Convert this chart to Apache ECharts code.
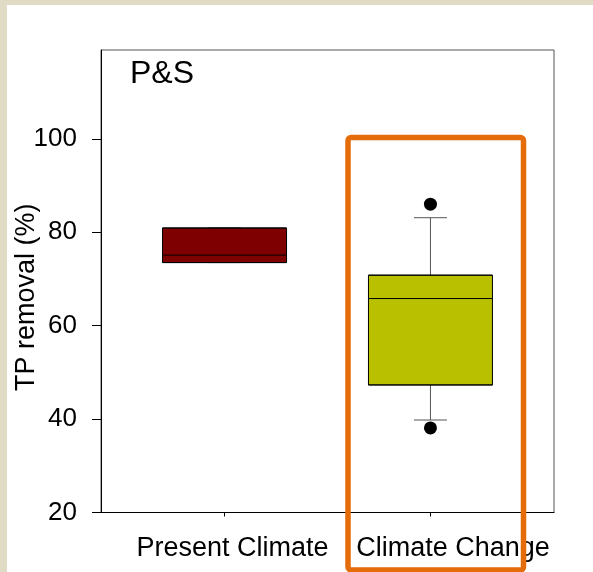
<!DOCTYPE html>
<html><head><meta charset="utf-8">
<script src="https://cdn.jsdelivr.net/npm/echarts@6/dist/echarts.min.js"></script>
<style>html,body{margin:0;padding:0;background:#fff}#c{width:593px;height:572px}</style>
</head><body><div id="c"></div>
<script>
const categories = ['Present Climate', 'Climate Change'];
const positions = [1, 2];
const whiskerLow = [73.5, 39.8];
const q1 = [73.5, 47.3];
const median = [75.1, 65.8];
const q3 = [80.9, 70.8];
const whiskerHigh = [80.9, 83.1];
const outliers = [[2, 86.0], [2, 38.1]];
const yTicks = [20, 40, 60, 80, 100];
const boxColors = ['#7F0000', '#B8C000'];
const panelLabel = 'P&S';
const yTitle = 'TP removal (%)';

const FONT = 'Liberation Sans, Arial, sans-serif';
const chart = echarts.init(document.getElementById('c'), null, {renderer: 'canvas'});

const boxData = positions.map((p, i) => ({
  value: [p, q1[i], q1[i], median[i], q3[i], q3[i]],
  itemStyle: {color: boxColors[i]}
}));
const whiskerData = positions.map((p, i) => [p, whiskerLow[i], median[i], median[i], median[i], whiskerHigh[i]]);

const rich = {};
const pads = [16, 45];
categories.forEach((c, i) => {
  rich['p' + i] = {fontSize: 27, fontFamily: FONT, color: '#000', padding: [0, 0, 0, pads[i]]};
});

chart.setOption({
  backgroundColor: '#fff',
  animation: false,
  title: {
    text: panelLabel, left: 130, top: 58, padding: 0,
    textStyle: {fontSize: 32, fontWeight: 'normal', fontFamily: FONT, color: '#000'}
  },
  grid: {left: 101, top: 50, width: 453, height: 462.5, show: true, borderColor: '#555', borderWidth: 1,
         backgroundColor: 'transparent', outerBoundsMode: 'none', containLabel: false},
  xAxis: [{
    type: 'value', min: 0.4, max: 2.6,
    axisLine: {show: true, onZero: false, lineStyle: {color: '#000', width: 1}},
    axisTick: {show: true, length: 4, customValues: positions, lineStyle: {color: '#000'}},
    axisLabel: {
      customValues: positions, margin: 23, fontSize: 27, fontFamily: FONT, color: '#000',
      formatter: v => { const i = positions.indexOf(v); return i < 0 ? '' : '{p' + i + '|' + categories[i] + '}'; },
      rich: rich
    },
    splitLine: {show: false}
  }, {
    type: 'value', min: 0.4, max: 2.6, show: false
  }],
  yAxis: {
    type: 'value', min: 20, max: 119,
    name: yTitle, nameLocation: 'middle', nameGap: 61, nameRotate: 90, nameMoveOverlap: false,
    nameTextStyle: {fontSize: 27, fontFamily: FONT, color: '#000', padding: [0, 32, 0, 0]},
    axisLine: {show: true, onZero: false, lineStyle: {color: '#000', width: 1}},
    axisTick: {show: true, length: 9, customValues: yTicks, lineStyle: {color: '#000'}},
    axisLabel: {customValues: yTicks, margin: 24, fontSize: 26, fontFamily: FONT, color: '#000'},
    splitLine: {show: false}
  },
  graphic: [
    {type: 'rect', left: 0, top: 0, shape: {width: 7, height: 572}, style: {fill: '#E0DBC5'}, z: 100},
    {type: 'rect', left: 0, top: 0, shape: {width: 593, height: 5}, style: {fill: '#E0DBC5'}, z: 100},
    {type: 'rect', shape: {x: 348, y: 137.5, width: 175.5, height: 432.5, r: 3}, style: {fill: 'none', stroke: '#E46C0A', lineWidth: 5.5}, z: 100}
  ],
  series: [{
    type: 'boxplot', xAxisIndex: 1, boxWidth: [33, 33], z: 1,
    itemStyle: {color: 'transparent', borderColor: '#555', borderWidth: 1},
    data: whiskerData, silent: true
  }, {
    type: 'boxplot', xAxisIndex: 0, boxWidth: [124, 124], z: 2,
    itemStyle: {borderColor: '#000', borderWidth: 1},
    data: boxData, silent: true
  }, {
    type: 'scatter', xAxisIndex: 0, symbolSize: 13, z: 3,
    itemStyle: {color: '#000', opacity: 1},
    data: outliers
  }]
});
</script></body></html>
